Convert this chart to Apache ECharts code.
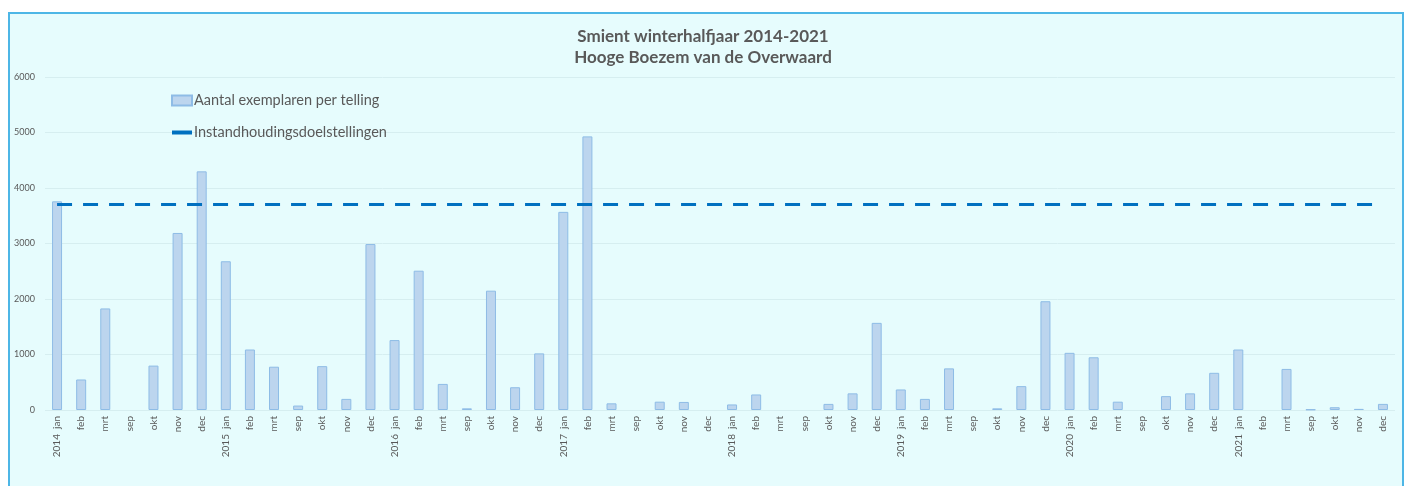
<!DOCTYPE html>
<html>
<head>
<meta charset="utf-8">
<title>Smient winterhalfjaar 2014-2021</title>
<script src="https://cdn.jsdelivr.net/npm/echarts@6/dist/echarts.min.js"></script>
<style>
  html, body { margin: 0; padding: 0; background: #fff; }
  #frame {
    position: absolute; left: 8px; top: 12px; width: 1392px; height: 480px;
    border: 2px solid #4DB6E6; border-bottom: none; background: #E6FCFD;
  }
  #chart { position: absolute; left: 0; top: 0; width: 1406px; height: 486px; }
</style>
</head>
<body>
<div id="frame"></div>
<div id="chart"></div>
<script>
// maanden per winterhalfjaar, jaar staat bij januari
var years = ['2014', '2015', '2016', '2017', '2018', '2019', '2020', '2021'];
var months = ['jan', 'feb', 'mrt', 'sep', 'okt', 'nov', 'dec'];

var counts2014 = [3760, 550, 1830, 0, 800, 3190, 4300];
var counts2015 = [2680, 1090, 780, 80, 790, 200, 2990];
var counts2016 = [1260, 2510, 470, 30, 2150, 410, 1020];
var counts2017 = [3570, 4930, 120, 0, 150, 145, 0];
var counts2018 = [100, 280, 0, 0, 110, 300, 1570];
var counts2019 = [370, 200, 750, 0, 30, 430, 1960];
var counts2020 = [1030, 950, 150, 0, 250, 300, 670];
var counts2021 = [1090, 0, 740, 10, 50, 20, 110];

var targetValue = 3700;
var yTicks = [0, 1000, 2000, 3000, 4000, 5000, 6000];

var categories = [];
years.forEach(function (y) {
  months.forEach(function (m) {
    categories.push(m === 'jan' ? y + '  ' + m : m);
  });
});
var counts = [].concat(counts2014, counts2015, counts2016, counts2017,
  counts2018, counts2019, counts2020, counts2021);

// geen randje tekenen bij een lege telling
var barData = counts.map(function (v) {
  return v === 0 ? { value: v, itemStyle: { borderWidth: 0 } } : v;
});

var myChart = echarts.init(document.getElementById('chart'));
myChart.setOption({
  backgroundColor: 'transparent',
  animation: false,
  textStyle: { fontFamily: 'Lato' },
  title: {
    text: 'Smient winterhalfjaar 2014-2021\nHooge Boezem van de Overwaard',
    left: 'center',
    top: 21,
    textStyle: {
      fontFamily: 'Lato', fontSize: 17, fontWeight: 'bold',
      color: '#595959', lineHeight: 21
    }
  },
  legend: {
    orient: 'vertical',
    left: 166,
    top: 88,
    itemGap: 17,
    itemWidth: 20,
    itemHeight: 10,
    textStyle: { color: '#595959', fontSize: 14.5, fontFamily: 'Lato', padding: [0, 0, 0, -3] },
    data: [
      { name: 'Aantal exemplaren per telling', icon: 'rect' },
      { name: 'Instandhoudingsdoelstellingen', icon: 'path://M0,0 H15 V3 H0 Z',
        itemStyle: { color: '#0070C0', borderWidth: 0 } }
    ]
  },
  grid: { left: 45, right: 11, top: 77, bottom: 76 },
  xAxis: [{
    type: 'category',
    data: categories,
    boundaryGap: true,
    axisLine: { show: false },
    axisTick: { show: false },
    axisLabel: {
      interval: 0, rotate: 90, fontSize: 10, color: '#595959',
      fontFamily: 'Lato', margin: 6
    }
  }],
  yAxis: [{
    type: 'value',
    min: yTicks[0],
    max: yTicks[yTicks.length - 1],
    interval: 1000,
    axisLabel: {
      fontSize: 9, color: '#595959', fontFamily: 'Lato', margin: 10,
      formatter: function (v) { return String(v); }
    },
    axisLine: { show: false },
    axisTick: { show: false },
    splitLine: { lineStyle: { color: '#D6EEF0', width: 1 } }
  }],
  series: [
    {
      name: 'Aantal exemplaren per telling',
      type: 'bar',
      data: barData,
      barWidth: 10,
      itemStyle: { color: '#BCD5EE', borderColor: '#8EBCE6', borderWidth: 1 }
    },
    {
      name: 'Instandhoudingsdoelstellingen',
      type: 'line',
      data: [],
      symbol: 'none',
      lineStyle: { color: '#0070C0', width: 3, type: [15, 11] },
      itemStyle: { color: '#0070C0' },
      markLine: {
        silent: true,
        symbol: ['none', 'none'],
        label: { show: false },
        lineStyle: { color: '#0070C0', width: 3, type: [15, 11] },
        data: [[
          { coord: [0, targetValue] },
          { coord: [categories.length - 1, targetValue] }
        ]]
      }
    }
  ]
});
</script>
</body>
</html>
